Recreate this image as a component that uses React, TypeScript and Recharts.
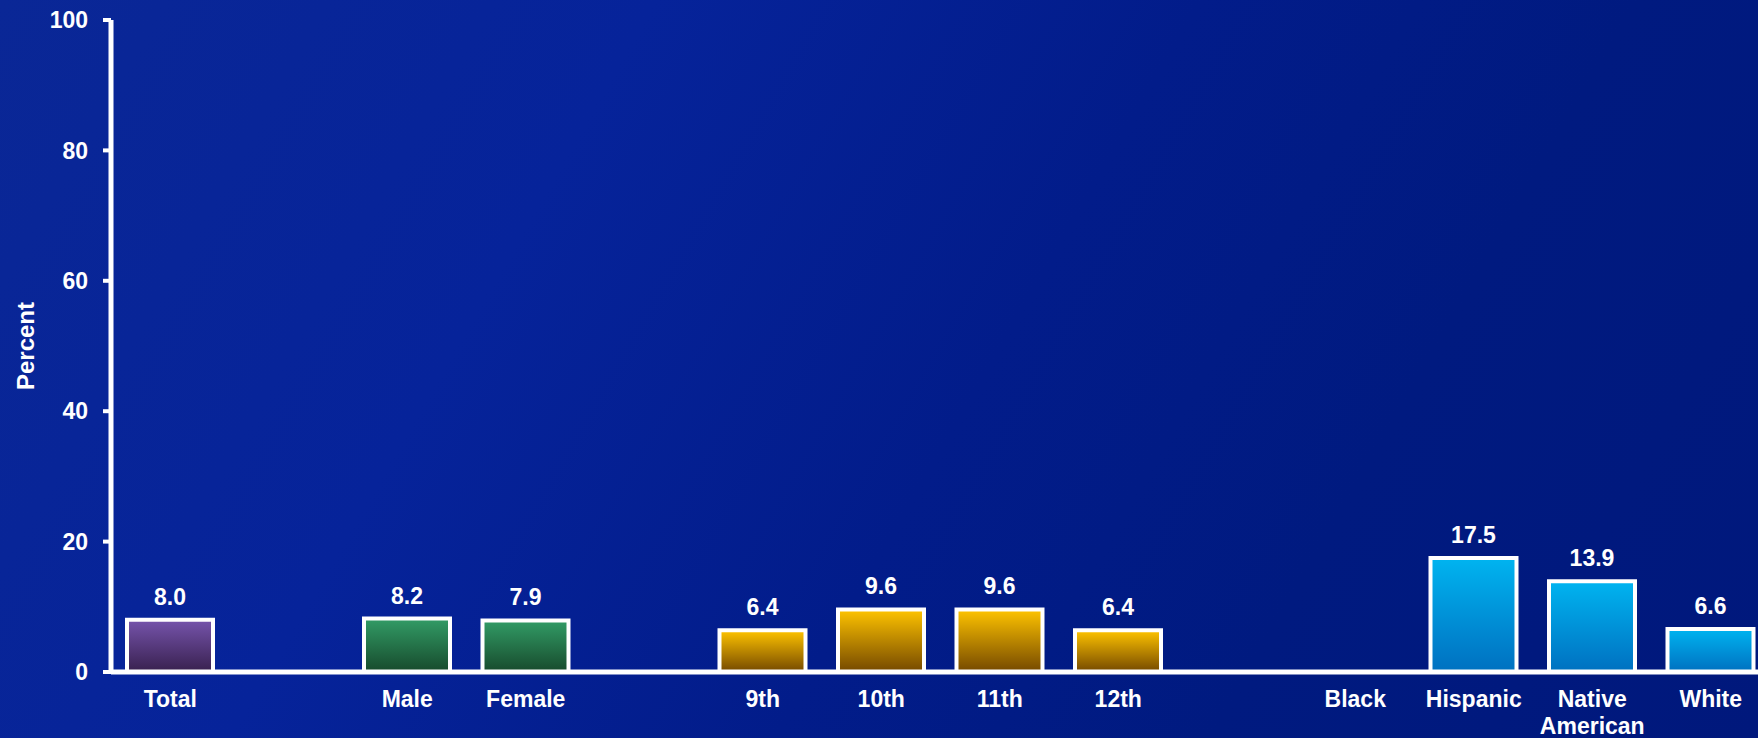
import React from "react";
import { BarChart, Bar, XAxis, YAxis, Cell, LabelList } from "recharts";

// blank slots separate the groups
const categories = ["Total", "", "Male", "Female", "", "9th", "10th", "11th", "12th", "", "Black", "Hispanic", "Native American", "White"];
const values: (number | null)[] = [8.0, null, 8.2, 7.9, null, 6.4, 9.6, 9.6, 6.4, null, null, 17.5, 13.9, 6.6];
const groups = ["total", "", "sex", "sex", "", "grade", "grade", "grade", "grade", "", "race", "race", "race", "race"];
const yTicks = [0, 20, 40, 60, 80, 100];

const gradients: Record<string, [string, string]> = {
  total: ["#7654ac", "#38204e"],
  sex: ["#329c66", "#174a2c"],
  grade: ["#ffc400", "#744800"],
  race: ["#00b4f0", "#0070c0"],
};

const data = categories.map((name, i) => ({ name, value: values[i], group: groups[i] }));

const FONT = "Arial, 'Liberation Sans', sans-serif";

function CategoryTick(props: any) {
  const { x, y, payload } = props;
  const words: string[] = String(payload.value).split(" ");
  return (
    <text x={x} y={y + 27} textAnchor="middle" fill="#fff" fontFamily={FONT} fontWeight="bold" fontSize={23}>
      {words.map((w, i) => (
        <tspan key={i} x={x} dy={i === 0 ? 0 : 27}>{w}</tspan>
      ))}
    </text>
  );
}

export default function App() {
  return (
    <div
      style={{
        position: "absolute",
        left: 0,
        top: 0,
        width: 1758,
        height: 738,
        overflow: "hidden",
        background: "linear-gradient(120deg, #0a2796 0%, #06239a 30%, #021c8a 55%, #001a80 75%, #00187c 100%)",
      }}
    >
      <BarChart width={1775} height={738} data={data} margin={{ top: 20, right: 5, bottom: 0, left: 0 }}>
        <defs>
          {Object.keys(gradients).map((k) => (
            <linearGradient key={k} id={"g-" + k} x1="0" y1="0" x2="0" y2="1">
              <stop offset="0%" stopColor={gradients[k][0]} />
              <stop offset="100%" stopColor={gradients[k][1]} />
            </linearGradient>
          ))}
        </defs>
        <XAxis
          dataKey="name"
          height={66}
          axisLine={{ stroke: "#fff", strokeWidth: 5 }}
          tickLine={false}
          interval={0}
          tick={<CategoryTick />}
        />
        <YAxis
          width={111}
          domain={[0, 100]}
          ticks={yTicks}
          axisLine={{ stroke: "#fff", strokeWidth: 5 }}
          tickLine={{ stroke: "#fff", strokeWidth: 4 }}
          tickSize={8}
          tickMargin={15}
          tick={{ fill: "#fff", fontSize: 23, fontWeight: "bold", fontFamily: FONT }}
          label={{
            content: (p: any) => {
              const vb = p.viewBox;
              const cy = vb.y + vb.height / 2;
              return (
                <text
                  x={25}
                  y={cy}
                  transform={`rotate(-90 25 ${cy})`}
                  textAnchor="middle"
                  dominantBaseline="central"
                  fill="#fff"
                  fontFamily={FONT}
                  fontWeight="bold"
                  fontSize={24}
                >
                  Percent
                </text>
              );
            },
          }}
        />
        <Bar dataKey="value" barSize={86} stroke="#fff" strokeWidth={4} isAnimationActive={false}>
          {data.map((d, i) => (
            <Cell key={i} fill={d.group ? `url(#g-${d.group})` : "none"} />
          ))}
          <LabelList
            dataKey="value"
            position="top"
            offset={15}
            formatter={(v: any) => (v == null ? "" : Number(v).toFixed(1))}
            fill="#fff"
            fontFamily={FONT}
            fontWeight="bold"
            fontSize={23}
          />
        </Bar>
      </BarChart>
    </div>
  );
}
